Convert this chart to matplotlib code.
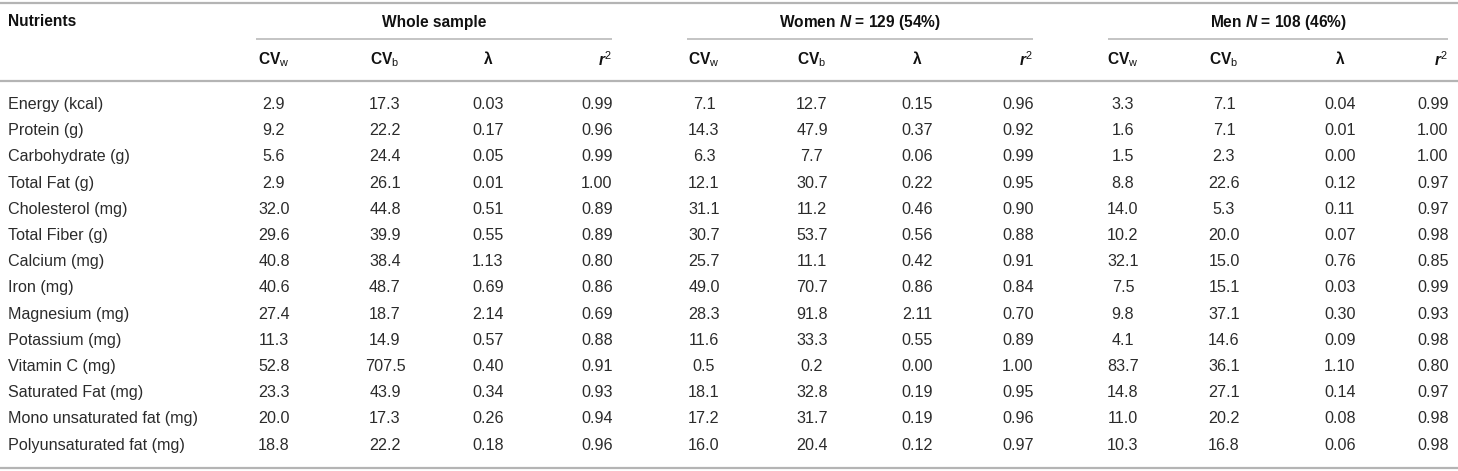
import matplotlib
matplotlib.use("Agg")
import matplotlib.pyplot as plt

plt.rcParams['font.family'] = ['Liberation Sans', 'DejaVu Sans']
plt.rcParams['mathtext.fontset'] = 'custom'
plt.rcParams['mathtext.rm'] = 'Liberation Sans'
plt.rcParams['mathtext.it'] = 'Liberation Sans:italic:bold'
plt.rcParams['mathtext.bf'] = 'Liberation Sans:bold'

# данные таблицы
nutrients = ["Energy (kcal)", "Protein (g)", "Carbohydrate (g)", "Total Fat (g)",
             "Cholesterol (mg)", "Total Fiber (g)", "Calcium (mg)", "Iron (mg)",
             "Magnesium (mg)", "Potassium (mg)", "Vitamin C (mg)", "Saturated Fat (mg)",
             "Mono unsaturated fat (mg)", "Polyunsaturated fat (mg)"]

groups = ["Whole sample", "Women $N$ = 129 (54%)", "Men $N$ = 108 (46%)"]
sub_headers = ["CV$_{\\mathrm{w}}$", "CV$_{\\mathrm{b}}$", "λ", "$r^{2}$"]

whole_cvw = [2.9, 9.2, 5.6, 2.9, 32.0, 29.6, 40.8, 40.6, 27.4, 11.3, 52.8, 23.3, 20.0, 18.8]
whole_cvb = [17.3, 22.2, 24.4, 26.1, 44.8, 39.9, 38.4, 48.7, 18.7, 14.9, 707.5, 43.9, 17.3, 22.2]
whole_lam = [0.03, 0.17, 0.05, 0.01, 0.51, 0.55, 1.13, 0.69, 2.14, 0.57, 0.40, 0.34, 0.26, 0.18]
whole_r2 = [0.99, 0.96, 0.99, 1.00, 0.89, 0.89, 0.80, 0.86, 0.69, 0.88, 0.91, 0.93, 0.94, 0.96]

women_cvw = [7.1, 14.3, 6.3, 12.1, 31.1, 30.7, 25.7, 49.0, 28.3, 11.6, 0.5, 18.1, 17.2, 16.0]
women_cvb = [12.7, 47.9, 7.7, 30.7, 11.2, 53.7, 11.1, 70.7, 91.8, 33.3, 0.2, 32.8, 31.7, 20.4]
women_lam = [0.15, 0.37, 0.06, 0.22, 0.46, 0.56, 0.42, 0.86, 2.11, 0.55, 0.00, 0.19, 0.19, 0.12]
women_r2 = [0.96, 0.92, 0.99, 0.95, 0.90, 0.88, 0.91, 0.84, 0.70, 0.89, 1.00, 0.95, 0.96, 0.97]

men_cvw = [3.3, 1.6, 1.5, 8.8, 14.0, 10.2, 32.1, 7.5, 9.8, 4.1, 83.7, 14.8, 11.0, 10.3]
men_cvb = [7.1, 7.1, 2.3, 22.6, 5.3, 20.0, 15.0, 15.1, 37.1, 14.6, 36.1, 27.1, 20.2, 16.8]
men_lam = [0.04, 0.01, 0.00, 0.12, 0.11, 0.07, 0.76, 0.03, 0.30, 0.09, 1.10, 0.14, 0.08, 0.06]
men_r2 = [0.99, 1.00, 1.00, 0.97, 0.97, 0.98, 0.85, 0.99, 0.93, 0.98, 0.80, 0.97, 0.98, 0.98]

group_data = [
    [whole_cvw, whole_cvb, whole_lam, whole_r2],
    [women_cvw, women_cvb, women_lam, women_r2],
    [men_cvw, men_cvb, men_lam, men_r2],
]

# раскладка (в пикселях)
W, H = 1458, 471
group_spans = [(256, 612), (687, 1033), (1108, 1448)]
col_centers = [[274, 385, 488, 597], [704, 812, 917, 1018], [1123, 1224, 1340, 1433]]
row0, row_step = 104.5, 26.2
line_color = "#b4b4b4"
head_color = "#111111"
body_color = "#2b2b2b"
fs_head = 11.2
fs_body = 11.6

fig = plt.figure(figsize=(W / 100, H / 100), dpi=100)
ax = fig.add_axes([0, 0, 1, 1])
ax.set_xlim(0, W)
ax.set_ylim(H, 0)
ax.axis("off")

# горизонтальные линии
ax.plot([0, W], [3, 3], color=line_color, lw=1.6, solid_capstyle="butt")
ax.plot([0, W], [81, 81], color=line_color, lw=1.6, solid_capstyle="butt")
ax.plot([0, W], [468, 468], color=line_color, lw=1.6, solid_capstyle="butt")
for x0, x1 in group_spans:
    ax.plot([x0, x1], [39, 39], color=line_color, lw=1.1, solid_capstyle="butt")

# заголовки
ax.text(8, 22, "Nutrients", fontsize=fs_head, fontweight="bold", color=head_color, va="center", ha="left")
for g, (x0, x1) in enumerate(group_spans):
    ax.text((x0 + x1) / 2, 22, groups[g], fontsize=fs_head, fontweight="bold", color=head_color,
            va="center", ha="center")
    for j, h in enumerate(sub_headers):
        if j == 3:
            ax.text(x1, 60, h, fontsize=fs_head, fontweight="bold", color=head_color, va="center", ha="right")
        else:
            ax.text(col_centers[g][j], 60, h, fontsize=fs_head, fontweight="bold", color=head_color,
                    va="center", ha="center")

# строки
for i, name in enumerate(nutrients):
    y = row0 + i * row_step
    ax.text(8, y, name, fontsize=fs_body, color=body_color, va="center", ha="left")
    for g in range(3):
        cols = group_data[g]
        for j in range(4):
            v = cols[j][i]
            s = f"{v:.1f}" if j < 2 else f"{v:.2f}"
            ax.text(col_centers[g][j], y, s, fontsize=fs_body, color=body_color, va="center", ha="center")

fig.savefig("out.png", dpi=100)
